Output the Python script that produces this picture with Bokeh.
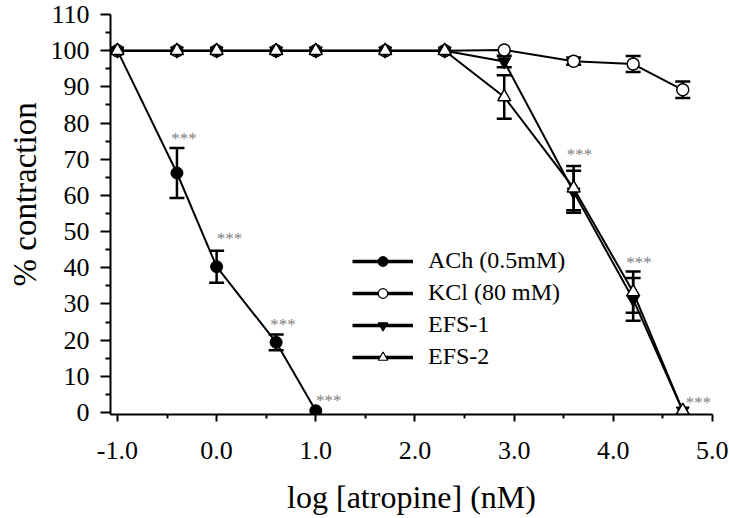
from bokeh.plotting import figure
from bokeh.models import (ColumnDataSource, Whisker, FixedTicker, NumeralTickFormatter,
                          Legend, LegendItem, Title)
from bokeh.embed import file_html
from bokeh.resources import INLINE
from bokeh.core.properties import value

FONT = "Liberation Serif"

# ---- data (log [atropine] nM, % contraction, SEM) ----
log_dose = [-1.0, -0.4, 0.0, 0.6, 1.0, 1.7, 2.3, 2.9, 3.6, 4.2, 4.7]

ach_x = [-1.0, -0.4, 0.0, 0.6, 1.0]
ach_y = [100, 66.2, 40.3, 19.4, 0.5]
ach_sem = [0, 6.9, 4.4, 2.2, 0]

kcl_y = [100, 100, 100, 100, 100, 100, 100, 100.2, 97.1, 96.3, 89.2]
kcl_sem = [0, 0, 0, 0, 0, 0, 0, 0, 1.0, 2.2, 2.3]

efs1_y = [100, 100, 100, 100, 100, 100, 100, 97.0, 61.0, 31.3, 0.5]
efs1_sem = [0, 0, 0, 0, 0, 0, 0, 1.6, 5.8, 5.9, 0]

efs2_y = [100, 100, 100, 100, 100, 100, 100, 87.2, 62.0, 33.3, 0.5]
efs2_sem = [0, 0, 0, 0, 0, 0, 0, 6.0, 6.1, 5.7, 0]

star_x = [-0.33, 0.13, 0.67, 1.13, 3.66, 4.26, 4.86]
star_y = [76.8, 49.4, 25.5, 4.6, 72.5, 42.6, 4.1]

x_ticks = [-1, 0, 1, 2, 3, 4, 5]
x_minor = [-0.5, 0.5, 1.5, 2.5, 3.5, 4.5]
y_ticks = [0, 10, 20, 30, 40, 50, 60, 70, 80, 90, 100, 110]
y_minor = [5, 15, 25, 35, 45, 55, 65, 75, 85, 95, 105]

p = figure(width=728, height=517, output_backend="svg", toolbar_location=None,
           x_range=(-1.07, 5.0), y_range=(-0.54, 110),
           min_border_left=110, min_border_right=16, min_border_top=14, min_border_bottom=99)
p.grid.visible = False
p.outline_line_color = None
p.background_fill_color = "white"
p.border_fill_color = "white"

# axes
for ax in (p.xaxis[0], p.yaxis[0]):
    ax.axis_line_width = 2
    ax.major_tick_line_width = 2
    ax.minor_tick_line_width = 2
    ax.major_tick_in = 0
    ax.minor_tick_in = 0
    ax.major_label_text_font = FONT
    ax.major_label_text_font_size = "26px"
    ax.major_label_text_color = "black"
    ax.axis_label_text_font = FONT
    ax.axis_label_text_font_style = "normal"
    ax.axis_label_text_color = "black"

p.xaxis.ticker = FixedTicker(ticks=x_ticks, minor_ticks=x_minor)
p.xaxis.formatter = NumeralTickFormatter(format="0.0")
p.xaxis.major_tick_out = 7
p.xaxis.minor_tick_out = 4
p.xaxis.major_label_standoff = 20
p.xaxis.axis_label = "log [atropine] (nM)"
p.xaxis.axis_label_text_font_size = "32px"
p.xaxis.axis_label_standoff = 17

p.yaxis.ticker = FixedTicker(ticks=y_ticks, minor_ticks=y_minor)
p.yaxis.major_tick_out = 10
p.yaxis.minor_tick_out = 5
p.yaxis.major_label_standoff = 11

# y-axis title as a side title (placed higher than centre, like the reference)
p.add_layout(Title(text="% contraction", align="left", offset=128, standoff=9,
                   text_font=FONT, text_font_size="33px", text_font_style="normal",
                   text_color="black"), "left")


def add_err(xs, ys, sems):
    bx, up, lo = [], [], []
    for x, y, s in zip(xs, ys, sems):
        if s > 0:
            bx.append(x)
            up.append(y + s)
            lo.append(y - s)
    src = ColumnDataSource(dict(x=bx, upper=up, lower=lo))
    w = Whisker(base="x", upper="upper", lower="lower", source=src,
                line_color="black", line_width=2.5)
    for h in (w.upper_head, w.lower_head):
        h.size = 15
        h.line_width = 2.5
        h.line_color = "black"
    p.add_layout(w)


add_err(ach_x, ach_y, ach_sem)
add_err(log_dose, kcl_y, kcl_sem)
add_err(log_dose, efs1_y, efs1_sem)
add_err(log_dose, efs2_y, efs2_sem)

# series
p.line(ach_x, ach_y, line_color="black", line_width=2)
p.scatter(ach_x, ach_y, marker="circle", size=12, fill_color="black", line_color="black")

p.line(log_dose, kcl_y, line_color="black", line_width=2)
p.scatter(log_dose, kcl_y, marker="circle", size=12, fill_color="white", line_color="black", line_width=1.5)

p.line(log_dose, efs1_y, line_color="black", line_width=2)
p.scatter(log_dose, efs1_y, marker="inverted_triangle", size=13, fill_color="black", line_color="black")

p.line(log_dose, efs2_y, line_color="black", line_width=2)
p.scatter(log_dose, efs2_y, marker="triangle", size=13, fill_color="white", line_color="black", line_width=1.5)

# significance stars
p.text(x=star_x, y=[v - 1.2 for v in star_y], text=["***"] * len(star_x),
       text_font=value(FONT), text_font_size="17px", text_color="#808080",
       text_align="center", text_baseline="middle")

# legend (proxy renderers placed outside the visible range, for the legend look)
items = []
for label, marker, fill in [("ACh (0.5mM)", "circle", "black"),
                            ("KCl (80 mM)", "circle", "white"),
                            ("EFS-1", "inverted_triangle", "black"),
                            ("EFS-2", "triangle", "white")]:
    lr = p.line(x=[-50, -49], y=[-50, -50], line_color="black", line_width=3.5)
    sr = p.scatter(x=[-50], y=[-50], marker=marker, size=10, fill_color=fill,
                   line_color="black", line_width=1.2)
    items.append(LegendItem(label=label, renderers=[lr, sr]))

legend = Legend(items=items, location=(242, 44), glyph_width=61, glyph_height=24,
                spacing=5, label_standoff=15, padding=0, margin=0,
                border_line_color=None, background_fill_alpha=0,
                label_text_font=FONT, label_text_font_size="24px",
                label_text_color="black")
p.add_layout(legend)

open("out.html", "w").write(file_html(p, INLINE))
